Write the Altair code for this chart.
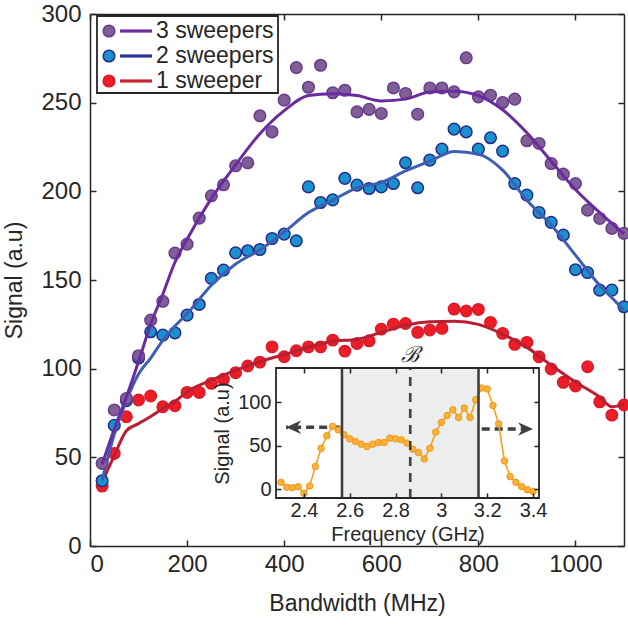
import altair as alt
import pandas as pd

FONT = "Liberation Sans"
INK = "#262626"

# ---------------- main data ----------------
bandwidth = [25, 50, 75, 100, 125, 150, 175, 200, 225, 250, 275, 300, 325, 350, 375, 400,
             425, 450, 475, 500, 525, 550, 575, 600, 625, 650, 675, 700, 725, 750, 775, 800,
             825, 850, 875, 900, 925, 950, 975, 1000, 1025, 1050, 1075, 1100]
sweep1 = [33.8, 52.2, 72.9, 82.3, 84.6, 78.5, 79.1, 86.6, 86.6, 91.7, 94.0, 97.7, 101.5, 103.7,
          112.3, 106.7, 110.1, 112.3, 112.3, 116.1, 109.9, 114.2, 115.7, 122.3, 125.1, 125.5,
          120.5, 121.8, 122.7, 133.6, 132.5, 133.4, 126.1, 119.9, 113.7, 114.8, 106.7, 99.8,
          92.3, 90.2, 101.1, 81.3, 73.8, 79.5]
sweep2 = [36.8, 68.0, 82.0, 106.0, 120.8, 118.9, 120.2, 130.2, 136.2, 150.9, 155.6, 165.3,
          166.5, 167.2, 173.4, 175.9, 172.1, 202.5, 193.7, 195.2, 207.3, 203.5, 201.6, 202.5,
          204.4, 216.1, 202.0, 217.6, 223.8, 235.1, 233.5, 223.8, 230.2, 222.7, 204.4, 197.9,
          188.1, 182.5, 175.3, 155.8, 154.2, 144.3, 144.3, 134.9]
sweep3 = [46.6, 76.7, 83.2, 107.3, 127.4, 138.0, 165.2, 170.2, 184.9, 197.5, 203.7, 214.4,
          216.1, 242.6, 233.5, 251.4, 269.8, 258.7, 271.1, 255.6, 257.0, 244.8, 246.2, 243.9,
          258.3, 255.2, 243.5, 258.3, 258.3, 256.1, 275.3, 253.3, 254.2, 250.1, 252.0, 228.5,
          227.0, 215.7, 209.7, 204.4, 189.4, 184.7, 179.1, 176.3]

fit_bw = [25, 50, 75, 100, 125, 150, 175, 200, 250, 300, 350, 400, 450, 500, 550, 600, 650,
          700, 750, 800, 850, 900, 950, 1000, 1050, 1075, 1100]
fit1 = [36, 51, 65, 69, 73, 77.5, 81.5, 87, 93.5, 99, 104, 108, 112, 115.5, 116.5, 120.5,
        124.5, 126.5, 126.8, 125, 119.5, 112, 102, 92.5, 84, 78.5, 80]
fit2 = [37, 63, 82, 97, 106, 116, 124, 131, 147, 159, 167, 177, 188, 195, 202, 205, 211.5,
        217, 222.5, 221, 212, 195, 181, 164, 147, 140, 133]
fit3 = [46, 66, 84, 104, 125, 142, 160, 173, 196, 215, 232.5, 245.5, 254, 255, 254, 251, 252,
        256, 256.5, 254, 246, 233, 217, 201, 188, 182, 176]

x_domain = [0, 1100]
y_domain = [0, 300]
x_ticks = [0, 200, 400, 600, 800, 1000]
y_ticks = [0, 50, 100, 150, 200, 250, 300]

legend_labels = ["3 sweepers", "2 sweepers", "1 sweeper"]

# ---------------- inset data ----------------
freq = [2.3, 2.325, 2.35, 2.375, 2.4, 2.425, 2.45, 2.475, 2.5, 2.525, 2.55, 2.575, 2.6,
        2.625, 2.65, 2.675, 2.7, 2.725, 2.75, 2.775, 2.8, 2.825, 2.85, 2.875, 2.9, 2.925,
        2.95, 2.975, 3.0, 3.025, 3.05, 3.075, 3.1, 3.125, 3.15, 3.175, 3.2, 3.225, 3.25,
        3.275, 3.3, 3.325, 3.35, 3.375, 3.4]
inset_signal = [8, 2.3, 1.9, 3, -4.6, 3.8, 26, 47, 61.3, 72, 68, 62.4, 57.8, 54.7, 51.7, 49,
                51.7, 53.6, 53.6, 58.6, 57.8, 56.7, 52.9, 46, 42.1, 34.8, 47.1, 65.5, 76.6,
                84.6, 91.1, 82.3, 93.1, 82.3, 102.6, 116, 115, 96.1, 75, 32.5, 14.5, 8, 3,
                -0.5, -2.5]
inset_x_domain = [2.278, 3.426]
inset_y_domain = [-10, 139]
inset_x_ticks = [2.4, 2.6, 2.8, 3.0, 3.2, 3.4]
inset_y_ticks = [0, 50, 100]
band_edges = [2.566, 3.162]
band_center = [2.864]
arrow_tail = [2.558, 3.176]
arrow_tip = [2.322, 3.4]
arrow_level = [71, 69]
arrow_dir = ["left", "right"]
band_label = ["ℬ"]

# ---------------- styles ----------------
RED_FILL, RED_EDGE, RED_LINE = "#eb1e28", "#d81a28", "#b91e32"
BLU_FILL, BLU_EDGE, BLU_LINE = "#1a91cd", "#232d8c", "#3c5fb4"
PUR_FILL, PUR_EDGE, PUR_LINE = "#7f5f96", "#6a3c8f", "#6a2aa0"
LEG_LINE = ["#6e2da0", "#2d3296", "#c82332"]
ORANGE_LINE, ORANGE_FILL, ORANGE_EDGE = "#f5a01e", "#f8b23c", "#f09614"
GRAY_LINE = "#404040"

W, H = 534, 532
IX0, IX1 = 186, 449      # inset plot area (pixels inside main plot)
IY0, IY1 = 484, 354


def ax(**kw):
    base = dict(labelFont=FONT, titleFont=FONT, labelColor=INK, titleColor=INK,
                domainColor=INK, tickColor=INK, domainWidth=1.5, tickWidth=1.5,
                grid=False, labelFontSize=24, titleFontSize=23,
                titleFontWeight="normal")
    base.update(kw)
    return alt.Axis(**base)


xs = alt.Scale(domain=x_domain, nice=False)
ys = alt.Scale(domain=y_domain, nice=False)

pts = pd.DataFrame({"bw": bandwidth, "s1": sweep1, "s2": sweep2, "s3": sweep3})
fit = pd.DataFrame({"bw": fit_bw, "f1": fit1, "f2": fit2, "f3": fit3})

ax_x_main = ax(orient="bottom", values=x_ticks, format="d", title="Bandwidth (MHz)",
               ticks=False, labelPadding=6, titlePadding=16)
ax_x_inb = ax(orient="top", offset=-H, values=x_ticks, labels=False, domain=False,
              tickSize=6, title=None)
ax_x_top = ax(orient="bottom", offset=-H, values=x_ticks, labels=False, tickSize=6,
              title=None)
ax_y_main = ax(orient="left", values=y_ticks, format="d", title="Signal (a.u)",
               ticks=False, labelPadding=9, titlePadding=14)
ax_y_inl = ax(orient="right", offset=-W, values=y_ticks, labels=False, domain=False,
              tickSize=6, title=None)
ax_y_right = ax(orient="left", offset=-W, values=y_ticks, labels=False, tickSize=6,
                title=None)

base = alt.Chart(pts)
red_pts = base.mark_circle(size=135, color=RED_FILL, stroke=RED_EDGE, strokeWidth=1.3,
                           opacity=1).encode(
    x=alt.X("bw:Q", scale=xs, axis=ax_x_main),
    y=alt.Y("s1:Q", scale=ys, axis=ax_y_main))
red_line = alt.Chart(fit).mark_line(color=RED_LINE, strokeWidth=3,
                                    interpolate="monotone").encode(
    x=alt.X("bw:Q", scale=xs, axis=ax_x_inb),
    y=alt.Y("f1:Q", scale=ys, axis=ax_y_inl))
blu_pts = base.mark_circle(size=135, color=BLU_FILL, stroke=BLU_EDGE, strokeWidth=1.5,
                           opacity=1).encode(
    x=alt.X("bw:Q", scale=xs, axis=ax_x_top),
    y=alt.Y("s2:Q", scale=ys, axis=ax_y_right))
blu_line = alt.Chart(fit).mark_line(color=BLU_LINE, strokeWidth=3,
                                    interpolate="monotone").encode(
    x=alt.X("bw:Q", scale=xs, axis=None),
    y=alt.Y("f2:Q", scale=ys, axis=None))
pur_pts = base.mark_circle(size=135, color=PUR_FILL, stroke=PUR_EDGE, strokeWidth=1.5,
                           opacity=1).encode(
    x=alt.X("bw:Q", scale=xs, axis=None),
    y=alt.Y("s3:Q", scale=ys, axis=None))
pur_line = alt.Chart(fit).mark_line(color=PUR_LINE, strokeWidth=3,
                                    interpolate="monotone").encode(
    x=alt.X("bw:Q", scale=xs, axis=None),
    y=alt.Y("f3:Q", scale=ys, axis=None))

main = alt.layer(red_pts, red_line, blu_pts, blu_line, pur_pts, pur_line).resolve_axis(
    x="independent", y="independent")

# ---------------- inset ----------------
ixs = alt.Scale(domain=inset_x_domain, range=[IX0, IX1], nice=False, zero=False)
iys = alt.Scale(domain=inset_y_domain, range=[IY0, IY1], nice=False, zero=False)

ax_ix_lab = ax(orient="bottom", offset=IY0 - H, values=inset_x_ticks, format="~g",
               title="Frequency (GHz)", ticks=False, domain=False, labelFontSize=20,
               titleFontSize=20, labelPadding=2, titlePadding=4, zindex=1)
ax_ix_inb = ax(orient="top", offset=-IY0, values=inset_x_ticks, labels=False,
               domain=False, tickSize=5, title=None, zindex=1)
ax_ix_top = ax(orient="bottom", offset=IY1 - H, values=inset_x_ticks, labels=False,
               domain=False, tickSize=5, title=None, zindex=1)
ax_iy_lab = ax(orient="left", offset=-IX0, values=inset_y_ticks, format="d",
               title="Signal (a.u)", ticks=False, domain=False, labelFontSize=20,
               titleFontSize=20, labelPadding=5, titlePadding=5, zindex=1)
ax_iy_inl = ax(orient="right", offset=IX0 - W, values=inset_y_ticks, labels=False,
               domain=False, tickSize=5, title=None, zindex=1)
ax_iy_right = ax(orient="left", offset=-IX1, values=inset_y_ticks, labels=False,
                 domain=False, tickSize=5, title=None, zindex=1)

frame_df = pd.DataFrame({"x0": [inset_x_domain[0]], "x1": [inset_x_domain[1]],
                         "y0": [inset_y_domain[0]], "y1": [inset_y_domain[1]]})
band_df = pd.DataFrame({"x0": [band_edges[0]], "x1": [band_edges[1]],
                        "y0": [inset_y_domain[0]], "y1": [inset_y_domain[1]]})
edge_df = pd.DataFrame({"x": band_edges, "y0": [inset_y_domain[0]] * 2,
                        "y1": [inset_y_domain[1]] * 2})
center_df = pd.DataFrame({"x": band_center, "y0": [inset_y_domain[0]],
                          "y1": [inset_y_domain[1]], "label": band_label})
arrow_df = pd.DataFrame({"tail": arrow_tail, "tip": arrow_tip, "y": arrow_level,
                         "dir": arrow_dir})
spec_df = pd.DataFrame({"f": freq, "s": inset_signal})

bg = alt.Chart(frame_df).mark_rect(color="white").encode(
    x=alt.X("x0:Q", scale=ixs, axis=ax_ix_lab), x2="x1:Q",
    y=alt.Y("y0:Q", scale=iys, axis=ax_iy_lab), y2="y1:Q")
band = alt.Chart(band_df).mark_rect(color="#ebeeed").encode(
    x=alt.X("x0:Q", scale=ixs, axis=ax_ix_inb), x2="x1:Q",
    y=alt.Y("y0:Q", scale=iys, axis=ax_iy_inl), y2="y1:Q")
shafts = alt.Chart(arrow_df).mark_rule(color=GRAY_LINE, strokeWidth=3.5,
                                       strokeDash=[8, 5]).encode(
    x=alt.X("tail:Q", scale=ixs, axis=ax_ix_top), x2="tip:Q",
    y=alt.Y("y:Q", scale=iys, axis=ax_iy_right))
heads = alt.Chart(arrow_df).mark_point(filled=True, size=225, color=GRAY_LINE,
                                       opacity=1).encode(
    x=alt.X("tip:Q", scale=ixs, axis=None),
    y=alt.Y("y:Q", scale=iys, axis=None),
    shape=alt.Shape("dir:N", scale=alt.Scale(
        domain=["left", "right"],
        range=["M 0 0 L 2 -0.9 L 1.4 0 L 2 0.9 Z", "M 0 0 L -2 -0.9 L -1.4 0 L -2 0.9 Z"]),
        legend=None))
spec_line = alt.Chart(spec_df).mark_line(color=ORANGE_LINE, strokeWidth=1.6).encode(
    x=alt.X("f:Q", scale=ixs, axis=None), y=alt.Y("s:Q", scale=iys, axis=None))
spec_pts = alt.Chart(spec_df).mark_circle(size=42, color=ORANGE_FILL, stroke=ORANGE_EDGE,
                                          strokeWidth=1, opacity=1).encode(
    x=alt.X("f:Q", scale=ixs, axis=None), y=alt.Y("s:Q", scale=iys, axis=None))
edges = alt.Chart(edge_df).mark_rule(color=GRAY_LINE, strokeWidth=2.6).encode(
    x=alt.X("x:Q", scale=ixs, axis=None),
    y=alt.Y("y0:Q", scale=iys, axis=None), y2="y1:Q")
center = alt.Chart(center_df).mark_rule(color=GRAY_LINE, strokeWidth=2.6,
                                        strokeDash=[9, 7]).encode(
    x=alt.X("x:Q", scale=ixs, axis=None),
    y=alt.Y("y0:Q", scale=iys, axis=None), y2="y1:Q")
frame = alt.Chart(frame_df).mark_rect(filled=False, color=INK, strokeWidth=1.8).encode(
    x=alt.X("x0:Q", scale=ixs, axis=None), x2="x1:Q",
    y=alt.Y("y0:Q", scale=iys, axis=None), y2="y1:Q")
blabel = alt.Chart(center_df).mark_text(font="DejaVu Serif", fontSize=22, fontStyle="italic",
                                        color=INK, baseline="middle").encode(
    x=alt.X("x:Q", scale=ixs, axis=None), y=alt.value(IY1 - 13), text="label:N")

inset = alt.layer(bg, band, shafts, heads, spec_line, spec_pts, edges, center, frame,
                  blabel).resolve_axis(x="independent", y="independent")

# ---------------- legend ----------------
leg_df = pd.DataFrame({"label": legend_labels})
ly = alt.Scale(type="point", domain=legend_labels, range=[17, 67], padding=0)
leg_box = alt.Chart(pd.DataFrame({"k": [0]})).mark_rect(
    fill="white", stroke=INK, strokeWidth=1.8).encode(
    x=alt.value(7), x2=alt.value(188), y=alt.value(2), y2=alt.value(79))
leg_lines = alt.Chart(leg_df).mark_rule(strokeWidth=3.2).encode(
    x=alt.value(30), x2=alt.value(62),
    y=alt.Y("label:N", scale=ly, axis=None),
    color=alt.Color("label:N", scale=alt.Scale(domain=legend_labels, range=LEG_LINE),
                    legend=None))
leg_marks = alt.Chart(leg_df).mark_circle(size=135, opacity=1, strokeWidth=1.5).encode(
    x=alt.value(19),
    y=alt.Y("label:N", scale=ly, axis=None),
    fill=alt.Fill("label:N", scale=alt.Scale(domain=legend_labels,
                                             range=[PUR_FILL, BLU_FILL, RED_FILL]),
                  legend=None),
    stroke=alt.Stroke("label:N", scale=alt.Scale(domain=legend_labels,
                                                 range=[PUR_EDGE, BLU_EDGE, RED_EDGE]),
                      legend=None))
leg_text = alt.Chart(leg_df).mark_text(align="left", baseline="middle", font=FONT,
                                       fontSize=23, color=INK).encode(
    x=alt.value(66), y=alt.Y("label:N", scale=ly, axis=None), text="label:N")
legend = alt.layer(leg_box, leg_lines, leg_marks, leg_text)

chart = alt.layer(main, inset, legend).resolve_scale(
    x="independent", y="independent"
).properties(
    width=W, height=H,
    autosize=alt.AutoSizeParams(type="none"),
    padding={"left": 90, "top": 14, "right": 4, "bottom": 79},
    background="white",
).configure_view(stroke=None)

chart.save("out.html", embed_options={"renderer": "svg", "actions": False})
